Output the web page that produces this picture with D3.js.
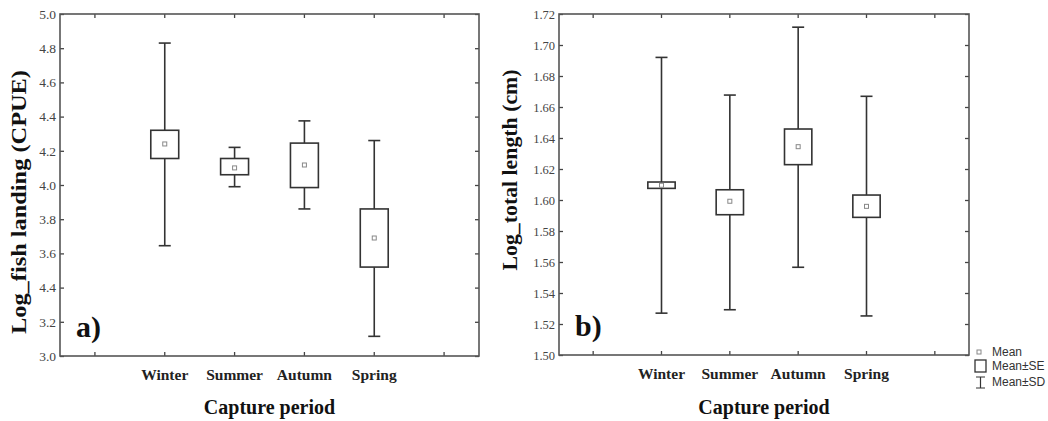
<!DOCTYPE html>
<html>
<head>
<meta charset="utf-8">
<script src="https://cdn.jsdelivr.net/npm/d3@7"></script>
<style>
  body { margin: 0; background: #fff; }
</style>
</head>
<body>
<div id="chart"></div>
<script>
// Capture periods (x categories)
const periods = ["Winter", "Summer", "Autumn", "Spring"];

// Panel a) Log fish landing (CPUE)
const landingMean = [4.24, 4.10, 4.117, 3.69];
const landingSeLow = [4.155, 4.06, 3.985, 3.52];
const landingSeHigh = [4.32, 4.155, 4.245, 3.86];
const landingSdLow = [3.645, 3.99, 3.86, 3.115];
const landingSdHigh = [4.83, 4.22, 4.375, 4.26];
const landingTicks = [3.0, 3.2, 3.4, 3.6, 3.8, 4.0, 4.2, 4.4, 4.6, 4.8, 5.0];
const landingTickLabels = ["3.0", "3.2", "4.4", "3.6", "3.8", "4.0", "4.2", "4.4", "4.6", "4.8", "5.0"];

// Panel b) Log total length (cm)
const lengthMean = [1.6095, 1.5992, 1.6344, 1.5959];
const lengthSeLow = [1.6075, 1.5905, 1.6228, 1.5888];
const lengthSeHigh = [1.6116, 1.6066, 1.6458, 1.6032];
const lengthSdLow = [1.527, 1.5292, 1.5566, 1.5252];
const lengthSdHigh = [1.692, 1.6677, 1.7115, 1.6669];
const lengthTicks = [1.50, 1.52, 1.54, 1.56, 1.58, 1.60, 1.62, 1.64, 1.66, 1.68, 1.70, 1.72];
const lengthTickLabels = ["1.50", "1.52", "1.54", "1.56", "1.58", "1.60", "1.62", "1.64", "1.66", "1.68", "1.70", "1.72"];

const legendLabels = ["Mean", "Mean\u00b1SE", "Mean\u00b1SD"];

const width = 1048;
const height = 421;
const serif = "'Liberation Serif', 'Times New Roman', serif";
const sans = "'Liberation Sans', Arial, sans-serif";

const svg = d3
  .select("#chart")
  .append("svg")
  .attr("width", width)
  .attr("height", height)
  .style("background", "#fff");

function drawPanel(p) {
  const g = svg.append("g");

  // 6 slots: empty slot on each side of the four periods
  const slots = ["_left", ...periods, "_right"];
  const x = d3.scaleBand().domain(slots).range([p.left, p.right]).padding(0);
  const y = d3.scaleLinear().domain(p.domain).range([p.bottom, p.top]);
  const cx = (i) => x(periods[i]) + x.bandwidth() / 2;

  const rows = periods.map((name, i) => ({
    i,
    mean: p.mean[i],
    seLow: p.seLow[i],
    seHigh: p.seHigh[i],
    sdLow: p.sdLow[i],
    sdHigh: p.sdHigh[i],
  }));

  // Left axis with labels
  g.append("g")
    .attr("transform", `translate(${p.left},0)`)
    .call(
      d3.axisLeft(y)
        .tickValues(p.ticks)
        .tickFormat((d, i) => p.tickLabels[i])
        .tickSizeInner(-4)
        .tickSizeOuter(0)
        .tickPadding(4)
    )
    .call((a) => a.select(".domain").remove())
    .call((a) => a.selectAll("line").attr("stroke", "#444").attr("stroke-width", 1.3))
    .selectAll("text")
    .attr("font-family", serif)
    .attr("font-size", p.tickFont)
    .attr("fill", "#444");

  // Right axis, ticks only
  g.append("g")
    .attr("transform", `translate(${p.right},0)`)
    .call(d3.axisRight(y).tickValues(p.ticks).tickFormat("").tickSizeInner(-4).tickSizeOuter(0))
    .call((a) => a.select(".domain").remove())
    .selectAll("line").attr("stroke", "#444").attr("stroke-width", 1.3);

  // Bottom axis with period labels
  g.append("g")
    .attr("transform", `translate(0,${p.bottom})`)
    .call(
      d3.axisBottom(x)
        .tickFormat((d) => (periods.includes(d) ? d : ""))
        .tickSizeInner(-4)
        .tickSizeOuter(0)
        .tickPadding(13)
    )
    .call((a) => a.select(".domain").remove())
    .call((a) => a.selectAll("line").attr("stroke", "#444").attr("stroke-width", 1.3))
    .selectAll("text")
    .attr("font-family", serif)
    .attr("font-size", 15.5)
    .attr("font-weight", "bold")
    .attr("fill", "#222");

  // Top axis, ticks only
  g.append("g")
    .attr("transform", `translate(0,${p.top})`)
    .call(d3.axisTop(x).tickFormat("").tickSizeInner(-4).tickSizeOuter(0))
    .call((a) => a.select(".domain").remove())
    .selectAll("line").attr("stroke", "#444").attr("stroke-width", 1.3);

  // Frame
  g.append("rect")
    .attr("x", p.left)
    .attr("y", p.top)
    .attr("width", p.right - p.left)
    .attr("height", p.bottom - p.top)
    .attr("fill", "none")
    .attr("stroke", "#555")
    .attr("stroke-width", 1.6);

  const boxW = x.bandwidth() * 0.4;
  const capW = 12;

  // SD whiskers
  g.selectAll(".sd")
    .data(rows)
    .enter()
    .append("line")
    .attr("x1", (d) => cx(d.i))
    .attr("x2", (d) => cx(d.i))
    .attr("y1", (d) => y(d.sdHigh))
    .attr("y2", (d) => y(d.sdLow))
    .attr("stroke", "#333")
    .attr("stroke-width", 1.6);

  ["sdHigh", "sdLow"].forEach((key) => {
    g.selectAll(".cap-" + key)
      .data(rows)
      .enter()
      .append("line")
      .attr("x1", (d) => cx(d.i) - capW / 2)
      .attr("x2", (d) => cx(d.i) + capW / 2)
      .attr("y1", (d) => y(d[key]))
      .attr("y2", (d) => y(d[key]))
      .attr("stroke", "#333")
      .attr("stroke-width", 1.6);
  });

  // SE boxes
  g.selectAll(".se")
    .data(rows)
    .enter()
    .append("rect")
    .attr("x", (d) => cx(d.i) - boxW / 2)
    .attr("y", (d) => y(d.seHigh))
    .attr("width", boxW)
    .attr("height", (d) => y(d.seLow) - y(d.seHigh))
    .attr("fill", "#fff")
    .attr("stroke", "#333")
    .attr("stroke-width", 1.6);

  // Mean markers
  g.selectAll(".mean")
    .data(rows)
    .enter()
    .append("rect")
    .attr("x", (d) => cx(d.i) - 2)
    .attr("y", (d) => y(d.mean) - 2)
    .attr("width", 4)
    .attr("height", 4)
    .attr("fill", "#fff")
    .attr("stroke", "#888")
    .attr("stroke-width", 1);

  // Panel letter
  g.append("text")
    .attr("x", p.left + 16)
    .attr("y", p.bottom - 19)
    .attr("font-family", serif)
    .attr("font-size", 30)
    .attr("font-weight", "bold")
    .attr("fill", "#111")
    .text(p.letter);

  // Y axis title
  g.append("text")
    .attr("transform", `translate(${p.titleX},${p.titleY}) rotate(-90)`)
    .attr("text-anchor", "middle")
    .attr("font-family", serif)
    .attr("font-size", 20)
    .attr("font-weight", "bold")
    .attr("fill", "#111")
    .attr("textLength", p.titleLength)
    .attr("lengthAdjust", "spacingAndGlyphs")
    .text(p.title);

  // X axis title
  g.append("text")
    .attr("x", (p.left + p.right) / 2)
    .attr("y", 414)
    .attr("text-anchor", "middle")
    .attr("font-family", serif)
    .attr("font-size", 20)
    .attr("font-weight", "bold")
    .attr("fill", "#111")
    .text("Capture period");
}

drawPanel({
  left: 60, right: 479, top: 14, bottom: 356,
  domain: [3.0, 5.0],
  mean: landingMean, seLow: landingSeLow, seHigh: landingSeHigh,
  sdLow: landingSdLow, sdHigh: landingSdHigh,
  ticks: landingTicks, tickLabels: landingTickLabels, tickFont: 13.5,
  letter: "a)",
  title: "Log_fish landing (CPUE)", titleX: 26, titleY: 202, titleLength: 264,
});

drawPanel({
  left: 559, right: 969, top: 14, bottom: 355,
  domain: [1.50, 1.72],
  mean: lengthMean, seLow: lengthSeLow, seHigh: lengthSeHigh,
  sdLow: lengthSdLow, sdHigh: lengthSdHigh,
  ticks: lengthTicks, tickLabels: lengthTickLabels, tickFont: 12.5,
  letter: "b)",
  title: "Log_total length (cm)", titleX: 517, titleY: 170, titleLength: 201,
});

// Legend
const legend = svg.append("g").attr("font-family", sans).attr("font-size", 12).attr("fill", "#333");
const legendY = [352, 366, 382];

legend.append("rect")
  .attr("x", 977).attr("y", legendY[0] - 2).attr("width", 4).attr("height", 4)
  .attr("fill", "#fff").attr("stroke", "#888").attr("stroke-width", 1);
legend.append("rect")
  .attr("x", 975).attr("y", legendY[1] - 6).attr("width", 11).attr("height", 12)
  .attr("fill", "#fff").attr("stroke", "#333").attr("stroke-width", 1.3);
legend.append("path")
  .attr("d", `M976,${legendY[2] - 5}H985M980.5,${legendY[2] - 5}V${legendY[2] + 6}M976,${legendY[2] + 6}H985`)
  .attr("fill", "none").attr("stroke", "#333").attr("stroke-width", 1.2);

legend.selectAll("text")
  .data(legendLabels)
  .enter()
  .append("text")
  .attr("x", 992)
  .attr("y", (d, i) => legendY[i] + 4)
  .text((d) => d);
</script>
</body>
</html>
